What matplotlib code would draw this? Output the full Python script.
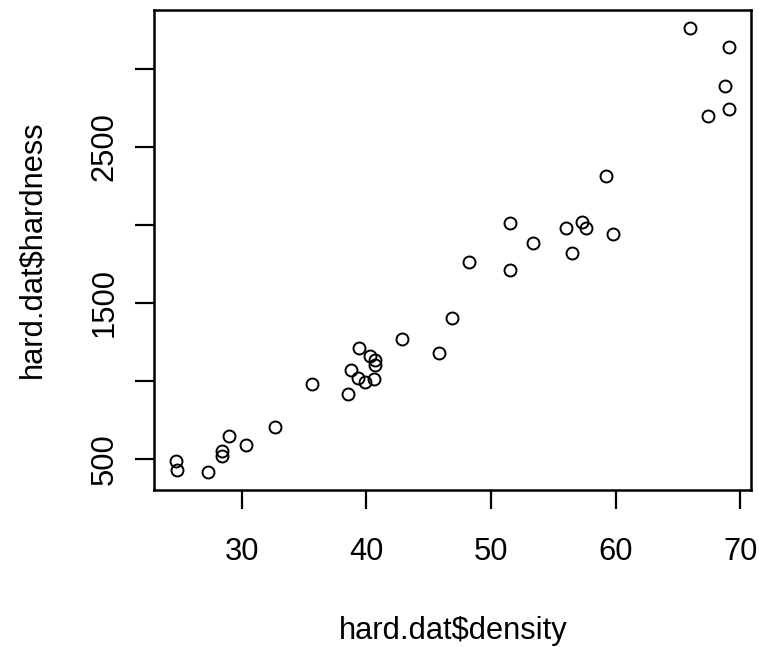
import matplotlib
matplotlib.use("Agg")
import matplotlib.pyplot as plt

# Janka hardness data
density = [24.7, 24.8, 27.3, 28.4, 28.4, 29.0, 30.3, 32.7, 35.6, 38.5,
           38.8, 39.3, 39.4, 39.9, 40.3, 40.6, 40.7, 40.7, 42.9, 45.8,
           46.9, 48.2, 51.5, 51.5, 53.4, 56.0, 56.5, 57.3, 57.6, 59.2,
           59.8, 66.0, 67.4, 68.8, 69.1, 69.1]
hardness = [484, 427, 413, 517, 549, 648, 587, 704, 979, 914,
            1070, 1020, 1210, 989, 1160, 1010, 1100, 1130, 1270, 1180,
            1400, 1760, 1710, 2010, 1880, 1980, 1820, 2020, 1980, 2310,
            1940, 3260, 2700, 2890, 2740, 3140]

xticks = [30, 40, 50, 60, 70]
yticks = [500, 1000, 1500, 2000, 2500, 3000]
ytick_labels = ["500", "", "1500", "", "2500", ""]

plt.rcParams['font.family'] = ['Liberation Sans', 'DejaVu Sans']
fs = 22.2

fig = plt.figure(figsize=(7.59, 6.47), dpi=100)
ax = fig.add_axes([0.2024, 0.2427, 0.7871, 0.7411])

ax.plot(density, hardness, linestyle='none', marker='o', markersize=8.6,
        markerfacecolor='none', markeredgecolor='black', markeredgewidth=1.4)

# R style 4% padding on both axes
xr = max(density) - min(density)
yr = max(hardness) - min(hardness)
ax.set_xlim(min(density) - 0.04 * xr, max(density) + 0.04 * xr)
ax.set_ylim(min(hardness) - 0.04 * yr, max(hardness) + 0.04 * yr)

ax.set_xticks(xticks)
ax.set_xticklabels([str(t) for t in xticks])
ax.set_yticks(yticks)
ax.set_yticklabels(ytick_labels, rotation=90, va='center')

for s in ax.spines.values():
    s.set_linewidth(1.8)
ax.tick_params(axis='both', direction='out', length=13.7, width=1.6,
               labelsize=fs, colors='black')
ax.tick_params(axis='x', pad=20)
ax.tick_params(axis='y', pad=11)

# axis titles placed by baseline, like R's mtext lines
fig.text(453.5 / 759, 8 / 647, 'hard.dat$density', fontsize=fs,
         ha='center', va='baseline')
fig.text(40 / 759, 398 / 647, 'hard.dat$hardness', fontsize=fs,
         rotation=90, rotation_mode='anchor', ha='center', va='baseline')

fig.savefig('out.png', dpi=100)
